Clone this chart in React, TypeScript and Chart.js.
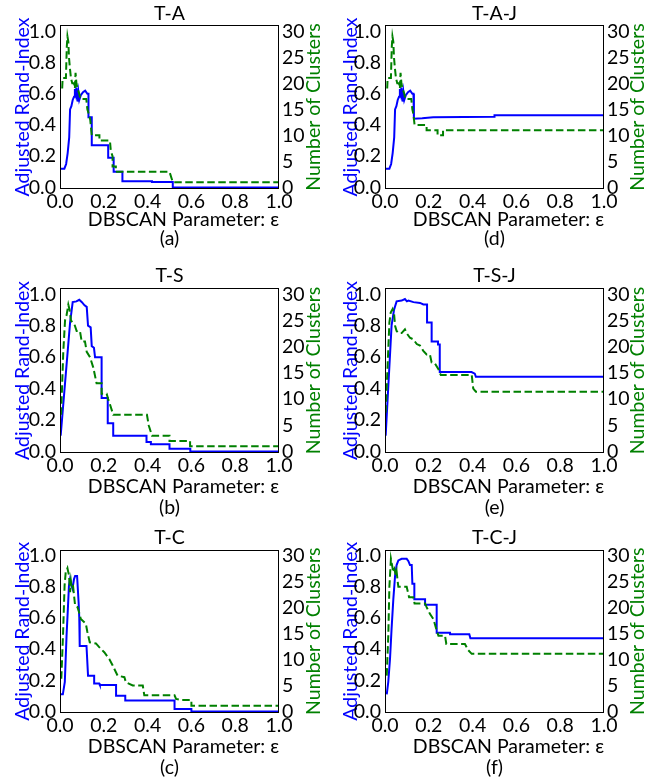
import React, { useEffect, useRef } from 'react';
import { Chart, registerables } from 'chart.js';

Chart.register(...registerables);

// ---------------- data ----------------
const X_TICKS = [0, 0.2, 0.4, 0.6, 0.8, 1.0];
const ARI_TICKS = [0, 0.2, 0.4, 0.6, 0.8, 1.0];
const CLUSTER_TICKS = [0, 5, 10, 15, 20, 25, 30];

const TITLES = ['T-A', 'T-A-J', 'T-S', 'T-S-J', 'T-C', 'T-C-J'];
const LETTERS = ['(a)', '(d)', '(b)', '(e)', '(c)', '(f)'];
const X_LABEL = 'DBSCAN Parameter: ε';
const LEFT_LABEL = 'Adjusted Rand-Index';
const RIGHT_LABEL = 'Number of Clusters';

// (a) T-A
const TA_ARI = [[0.003,0.12],[0.02,0.12],[0.028,0.15],[0.035,0.22],[0.042,0.32],[0.046,0.5],[0.052,0.52],[0.058,0.56],[0.064,0.58],[0.068,0.63],[0.072,0.6],[0.075,0.64],[0.08,0.55],[0.084,0.61],[0.088,0.56],[0.095,0.59],[0.105,0.61],[0.115,0.62],[0.125,0.6],[0.13,0.6],[0.13,0.45],[0.145,0.45],[0.145,0.27],[0.22,0.27],[0.22,0.19],[0.245,0.19],[0.245,0.1],[0.285,0.1],[0.285,0.04],[0.42,0.04],[0.42,0.035],[0.515,0.035],[0.515,0],[1,0]];
const TA_CLUSTERS = [[0.01,19],[0.012,21],[0.027,21],[0.031,27],[0.034,29],[0.038,28],[0.041,25],[0.045,23],[0.05,21],[0.056,20],[0.064,20],[0.068,19],[0.071,22],[0.075,20],[0.08,19],[0.088,18],[0.093,17],[0.12,17],[0.125,15],[0.132,14],[0.138,13],[0.145,10],[0.18,10],[0.18,9],[0.228,9],[0.232,7],[0.24,6],[0.24,4],[0.255,4],[0.255,3],[0.5,3],[0.515,1],[1,1]];

// (d) T-A-J
const TAJ_ARI = [[0.003,0.12],[0.02,0.12],[0.028,0.15],[0.035,0.22],[0.042,0.32],[0.046,0.5],[0.052,0.52],[0.058,0.56],[0.064,0.58],[0.068,0.63],[0.072,0.6],[0.075,0.64],[0.08,0.55],[0.084,0.61],[0.088,0.56],[0.095,0.59],[0.105,0.61],[0.115,0.62],[0.125,0.6],[0.13,0.6],[0.132,0.44],[0.17,0.443],[0.22,0.45],[0.5,0.453],[0.5,0.462],[1,0.462]];
const TAJ_CLUSTERS = [[0.01,19],[0.012,21],[0.027,21],[0.031,27],[0.034,29],[0.038,28],[0.041,25],[0.045,23],[0.05,21],[0.056,20],[0.064,20],[0.068,19],[0.071,22],[0.075,20],[0.08,19],[0.088,18],[0.093,17],[0.12,17],[0.125,15],[0.13,14],[0.135,12],[0.19,12],[0.19,11],[0.24,11],[0.24,10],[0.265,10],[0.265,11],[1,11]];

// (b) T-S
const TS_ARI = [[0.003,0.1],[0.046,0.82],[0.058,0.95],[0.075,0.955],[0.088,0.965],[0.1,0.95],[0.112,0.93],[0.122,0.92],[0.128,0.8],[0.14,0.79],[0.145,0.67],[0.155,0.66],[0.16,0.6],[0.19,0.6],[0.19,0.34],[0.218,0.34],[0.218,0.18],[0.243,0.18],[0.243,0.1],[0.395,0.1],[0.395,0.06],[0.415,0.06],[0.415,0.045],[0.5,0.045],[0.5,0.017],[0.595,0.017],[0.595,0],[1,0]];
const TS_CLUSTERS = [[0.005,7],[0.015,19],[0.023,25],[0.03,26],[0.038,28],[0.044,27],[0.05,25],[0.068,24],[0.076,23],[0.091,23],[0.099,21],[0.114,21],[0.122,19],[0.137,18],[0.152,16],[0.167,13],[0.19,13],[0.19,11],[0.213,11],[0.22,10],[0.228,9],[0.243,7],[0.397,7],[0.405,5],[0.42,3],[0.5,3],[0.5,2],[0.594,2],[0.594,1],[1,1]];

// (e) T-S-J
const TSJ_ARI = [[0.003,0.1],[0.03,0.8],[0.041,0.9],[0.053,0.955],[0.076,0.96],[0.091,0.97],[0.1,0.955],[0.107,0.96],[0.13,0.95],[0.16,0.945],[0.175,0.935],[0.192,0.935],[0.192,0.82],[0.213,0.82],[0.213,0.7],[0.242,0.7],[0.242,0.68],[0.25,0.68],[0.25,0.505],[0.395,0.505],[0.41,0.495],[0.415,0.475],[1,0.475]];
const TSJ_CLUSTERS = [[0.003,7.4],[0.011,15.5],[0.02,24.6],[0.026,26.5],[0.035,27.2],[0.041,26.5],[0.046,24],[0.053,23],[0.061,22.6],[0.076,22.6],[0.091,23.3],[0.1,22.5],[0.114,21.7],[0.129,21.4],[0.145,20.5],[0.16,20.2],[0.175,19.2],[0.19,18.5],[0.205,18.5],[0.213,17],[0.228,16.8],[0.244,15.7],[0.251,14.9],[0.255,14.6],[0.396,14.6],[0.403,12],[0.415,11.4],[1,11.4]];

// (c) T-C
const TC_ARI = [[0.003,0.11],[0.013,0.11],[0.022,0.19],[0.03,0.49],[0.036,0.66],[0.041,0.81],[0.046,0.85],[0.052,0.81],[0.057,0.79],[0.064,0.85],[0.069,0.87],[0.078,0.87],[0.085,0.7],[0.088,0.6],[0.09,0.42],[0.121,0.42],[0.128,0.23],[0.156,0.23],[0.156,0.18],[0.179,0.18],[0.182,0.17],[0.256,0.17],[0.256,0.1],[0.298,0.1],[0.298,0.07],[0.523,0.07],[0.523,0.016],[0.6,0.016],[0.6,0],[1,0]];
const TC_CLUSTERS = [[0.006,6.3],[0.014,15],[0.021,24.3],[0.026,26.8],[0.034,27.6],[0.038,26.8],[0.041,26.3],[0.046,23],[0.05,25],[0.054,23.6],[0.06,24],[0.064,22.4],[0.069,20.4],[0.08,20.1],[0.087,19.1],[0.095,17.8],[0.118,16.9],[0.125,15.3],[0.136,13.3],[0.164,13.1],[0.179,12.4],[0.202,11.4],[0.225,10.1],[0.24,8.9],[0.263,6.9],[0.294,6.6],[0.301,5.6],[0.332,5],[0.378,5],[0.385,3.1],[0.523,3.1],[0.53,2.4],[0.553,2.2],[0.6,2.2],[0.6,1.1],[1,1.1]];

// (f) T-C-J
const TCJ_ARI = [[0.008,0.11],[0.015,0.19],[0.023,0.34],[0.03,0.53],[0.038,0.72],[0.046,0.87],[0.053,0.94],[0.061,0.97],[0.076,0.98],[0.099,0.98],[0.107,0.965],[0.114,0.94],[0.122,0.94],[0.125,0.82],[0.134,0.82],[0.134,0.72],[0.183,0.72],[0.183,0.685],[0.236,0.685],[0.236,0.505],[0.297,0.505],[0.297,0.495],[0.385,0.495],[0.39,0.47],[1,0.47]];
const TCJ_CLUSTERS = [[0.008,6.9],[0.015,14.6],[0.02,24],[0.027,29.4],[0.033,28],[0.038,26.8],[0.043,27.4],[0.049,26.3],[0.053,27],[0.058,25],[0.061,24],[0.099,24],[0.11,22],[0.129,22],[0.135,20.8],[0.183,20.8],[0.19,20.1],[0.205,18.8],[0.221,17.8],[0.236,15.6],[0.244,14.6],[0.274,14.6],[0.28,13],[0.365,13],[0.38,11.8],[0.396,11.1],[1,11.1]];

const SERIES = [
  [TA_ARI, TA_CLUSTERS],
  [TAJ_ARI, TAJ_CLUSTERS],
  [TS_ARI, TS_CLUSTERS],
  [TSJ_ARI, TSJ_CLUSTERS],
  [TC_ARI, TC_CLUSTERS],
  [TCJ_ARI, TCJ_CLUSTERS],
];

// ---------------- layout / style ----------------
const FONT = 'Lato, "DejaVu Sans", sans-serif';
const FS = 19.5;
const LH = FS * 1.1;
const BLUE = '#0000ff';
const GREEN = '#008000';
const Y_MIN = -0.01;
const Y_MAX = 1.04;

const COLS = [
  { left: 0, width: 339, axisW: 60, leftTitleX: 23, rightTitleDx: 35 },
  { left: 320, width: 349, axisW: 65, leftTitleX: 31, rightTitleDx: 34 },
];
const ROWS = [
  { top: 0, height: 260, plotTop: 25, plotBottom: 189, titleY: 14, xTitleDy: 31, subDy: 49.5, tickDy: 13 },
  { top: 262, height: 262, plotTop: 26, plotBottom: 191, titleY: 14, xTitleDy: 33.5, subDy: 54.5, tickDy: 12.5 },
  { top: 524, height: 256, plotTop: 25.5, plotBottom: 189, titleY: 13.5, xTitleDy: 34, subDy: 55, tickDy: 12.5 },
];

const framePlugin = {
  id: 'frame',
  afterDatasetsDraw(chart: any) {
    const { ctx, chartArea } = chart;
    const l = Math.round(chartArea.left) + 0.5;
    const t = Math.round(chartArea.top) + 0.5;
    const r = Math.round(chartArea.right) - 0.5;
    const b = Math.round(chartArea.bottom) - 0.5;
    ctx.save();
    ctx.strokeStyle = '#000';
    ctx.lineWidth = 1;
    ctx.strokeRect(l, t, r - l, b - t);
    ctx.restore();
  },
};

const rightTitlePlugin = {
  id: 'rightTitle',
  afterDraw(chart: any, _args: any, opts: any) {
    const { ctx, chartArea } = chart;
    ctx.save();
    ctx.translate(chartArea.right + opts.dx, (chartArea.top + chartArea.bottom) / 2);
    ctx.rotate(-Math.PI / 2);
    ctx.font = `normal ${FS}px ${FONT}`;
    ctx.fillStyle = opts.color;
    ctx.textAlign = 'center';
    ctx.textBaseline = 'middle';
    ctx.fillText(opts.text, 0, 0);
    ctx.restore();
  },
};

function makeConfig(i: number): any {
  const col = COLS[i % 2];
  const row = ROWS[Math.floor(i / 2)];
  const [ari, clusters] = SERIES[i];
  const L = row.subDy - row.xTitleDy;
  const xAxisH = row.xTitleDy + L / 2;
  const subPadBottom = Math.max(0, row.height - row.plotBottom - xAxisH - L);
  const tickFont = { family: FONT, size: FS, lineHeight: 1.1 };
  return {
    type: 'line',
    data: {
      datasets: [
        {
          label: RIGHT_LABEL,
          data: clusters.map(([x, y]) => ({ x, y })),
          yAxisID: 'y2',
          borderColor: GREEN,
          borderWidth: 2,
          borderDash: [7.5, 3.5],
          pointRadius: 0,
          tension: 0,
          fill: false,
          order: 0,
        },
        {
          label: LEFT_LABEL,
          data: ari.map(([x, y]) => ({ x, y })),
          yAxisID: 'y',
          borderColor: BLUE,
          borderWidth: 2,
          pointRadius: 0,
          tension: 0,
          fill: false,
          order: 1,
        },
      ],
    },
    options: {
      responsive: false,
      animation: false,
      events: [],
      layout: { padding: 0 },
      plugins: {
        legend: { display: false },
        tooltip: { enabled: false },
        title: {
          display: true,
          text: TITLES[i],
          color: '#000',
          font: { family: FONT, size: FS, weight: 'normal', lineHeight: 1.1 },
          padding: { top: row.titleY - LH / 2, bottom: Math.max(0, row.plotTop - row.titleY - LH / 2) },
        },
        subtitle: {
          display: true,
          position: 'bottom',
          text: LETTERS[i],
          color: '#000',
          font: { family: FONT, size: FS, weight: 'normal', lineHeight: L + 'px' },
          padding: { top: 0, bottom: subPadBottom },
        },
        rightTitle: { text: RIGHT_LABEL, color: GREEN, dx: col.rightTitleDx },
      },
      scales: {
        x: {
          type: 'linear',
          position: 'bottom',
          min: 0,
          max: 1,
          afterBuildTicks: (s: any) => { s.ticks = X_TICKS.map((v) => ({ value: v })); },
          afterFit: (s: any) => { s.height = xAxisH; },
          ticks: {
            callback: (v: any) => Number(v).toFixed(1),
            color: '#000',
            font: tickFont,
            padding: row.tickDy - LH / 2,
            maxRotation: 0,
            autoSkip: false,
          },
          grid: { display: false, drawTicks: false },
          border: { display: false },
          title: {
            display: true,
            text: X_LABEL,
            align: 'end',
            color: '#000',
            font: { family: FONT, size: FS, lineHeight: L + 'px' },
            padding: { top: 0, bottom: 0 },
          },
        },
        y: {
          type: 'linear',
          position: 'left',
          min: Y_MIN,
          max: Y_MAX,
          afterBuildTicks: (s: any) => { s.ticks = ARI_TICKS.map((v) => ({ value: v })); },
          afterFit: (s: any) => { s.width = col.axisW; },
          ticks: {
            callback: (v: any) => Number(v).toFixed(1),
            color: '#000',
            font: tickFont,
            padding: 4,
          },
          grid: { display: false, drawTicks: false },
          border: { display: false },
          title: {
            display: true,
            text: LEFT_LABEL,
            color: BLUE,
            font: { family: FONT, size: FS, lineHeight: 1.1 },
            padding: { top: col.leftTitleX - LH / 2, bottom: 0 },
          },
        },
        y2: {
          type: 'linear',
          position: 'right',
          min: Y_MIN * 30,
          max: Y_MAX * 30,
          afterBuildTicks: (s: any) => { s.ticks = CLUSTER_TICKS.map((v) => ({ value: v })); },
          afterFit: (s: any) => { s.width = col.axisW; },
          ticks: {
            callback: (v: any) => String(v),
            color: '#000',
            font: tickFont,
            padding: 3,
          },
          grid: { display: false, drawTicks: false },
          border: { display: false },
        },
      },
    },
    plugins: [framePlugin, rightTitlePlugin],
  };
}

function Panel({ index }: { index: number }) {
  const ref = useRef<HTMLCanvasElement | null>(null);
  const col = COLS[index % 2];
  const row = ROWS[Math.floor(index / 2)];
  useEffect(() => {
    if (!ref.current) return;
    const chart = new Chart(ref.current, makeConfig(index));
    return () => chart.destroy();
  }, [index]);
  return (
    <canvas
      ref={ref}
      width={col.width}
      height={row.height}
      style={{ position: 'absolute', left: col.left, top: row.top, width: col.width, height: row.height }}
    />
  );
}

export default function App() {
  return (
    <div style={{ position: 'absolute', left: 0, top: 0, width: 669, height: 778, background: '#fff', overflow: 'hidden' }}>
      {[0, 1, 2, 3, 4, 5].map((i) => (
        <Panel key={i} index={i} />
      ))}
    </div>
  );
}
